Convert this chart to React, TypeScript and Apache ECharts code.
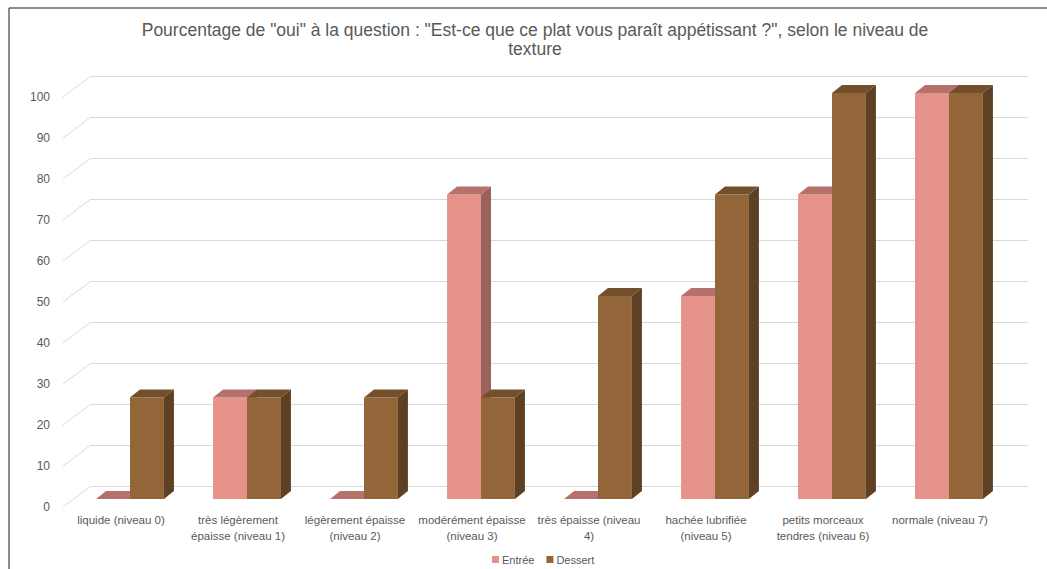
import React, { useEffect, useRef } from "react";
import * as echarts from "echarts";

const categories = [
  "liquide (niveau 0)",
  "très légèrement\népaisse (niveau 1)",
  "légèrement épaisse\n(niveau 2)",
  "modérément épaisse\n(niveau 3)",
  "très épaisse (niveau\n4)",
  "hachée lubrifiée\n(niveau 5)",
  "petits morceaux\ntendres (niveau 6)",
  "normale (niveau 7)",
];
const entree = [0, 25, 0, 75, 0, 50, 75, 100];
const dessert = [25, 25, 25, 25, 50, 75, 100, 100];
const yTicks = [0, 10, 20, 30, 40, 50, 60, 70, 80, 90, 100];
const seriesNames = ["Entrée", "Dessert"];
const titleText =
  'Pourcentage de "oui" à la question : "Est-ce que ce plat vous paraît appétissant ?", selon le niveau de\ntexture';

const FONT = "'Liberation Sans', Arial, sans-serif";
const TXT = "#595959";
const GRID = "#d9d9d9";

const palette = [
  { front: "#E5928A", top: "#B5716B", side: "#9B615B" },
  { front: "#936639", top: "#73502B", side: "#5E4124" },
];

function barRenderer(idx: number) {
  return (params: any, api: any) => {
    const cat = api.value(0);
    const v = api.value(1);
    const top = api.coord([cat, v]);
    const base = api.coord([cat, 0]);
    const band = api.size([1, 0])[0];
    const w = band * 0.29;
    const x0 = idx === 0 ? top[0] - w : top[0];
    const x1 = x0 + w;
    const yT = top[1];
    const yB = base[1];
    const dx = 10;
    const dy = 8;
    const c = palette[idx];
    return {
      type: "group",
      children: [
        {
          type: "rect",
          shape: { x: x0, y: yT, width: w, height: yB - yT },
          style: { fill: c.front },
        },
        {
          type: "polygon",
          shape: { points: [[x0, yT], [x1, yT], [x1 + dx, yT - dy], [x0 + dx, yT - dy]] },
          style: { fill: c.top },
        },
        {
          type: "polygon",
          shape: { points: [[x1, yT], [x1 + dx, yT - dy], [x1 + dx, yB - dy], [x1, yB]] },
          style: { fill: c.side },
        },
      ],
    };
  };
}

export default function App() {
  const ref = useRef<HTMLDivElement>(null);
  useEffect(() => {
    if (!ref.current) return;
    const chart = echarts.init(ref.current, undefined, { renderer: "svg" });
    const hiddenAxis = {
      show: false,
    };
    chart.setOption({
      animation: false,
      backgroundColor: "#ffffff",
      title: {
        text: titleText,
        left: 530,
        top: 15,
        textAlign: "center",
        textStyle: {
          fontFamily: FONT,
          fontSize: 17.5,
          fontWeight: "normal",
          color: TXT,
          lineHeight: 19,
        },
      },
      legend: {
        data: seriesNames,
        left: 487,
        top: 549,
        icon: "rect",
        itemWidth: 7,
        itemHeight: 7,
        itemGap: 12,
        textStyle: { fontFamily: FONT, fontSize: 11, color: TXT, padding: [0, 0, 0, -2] },
      },
      graphic: [
        { type: "line", shape: { x1: 9, y1: 8, x2: 1047, y2: 8 }, style: { stroke: "#666666", lineWidth: 1.5 } },
        { type: "line", shape: { x1: 9, y1: 8, x2: 9, y2: 569 }, style: { stroke: "#666666", lineWidth: 1.5 } },
      ],
      grid: [
        { left: 91, top: 76, width: 937, height: 410 },
        { left: 63, top: 97, width: 10, height: 410 },
        { left: 71.5, top: 93, width: 936, height: 406 },
        { left: 62.5, top: 93, width: 936, height: 406 },
      ],
      xAxis: [
        { gridIndex: 0, type: "value", min: 0, max: 1, ...hiddenAxis },
        { gridIndex: 1, type: "value", min: 0, max: 1, ...hiddenAxis },
        { gridIndex: 2, type: "category", data: categories, ...hiddenAxis },
        {
          gridIndex: 3,
          type: "category",
          data: categories,
          axisLine: { show: false },
          axisTick: { show: false },
          axisLabel: {
            interval: 0,
            margin: 13,
            fontFamily: FONT,
            fontSize: 11.5,
            lineHeight: 16,
            color: TXT,
          },
        },
      ],
      yAxis: [
        {
          gridIndex: 0,
          type: "value",
          min: 0,
          max: 100,
          interval: 10,
          axisLabel: { show: false },
          axisLine: { show: false },
          axisTick: { show: false },
          splitLine: { show: true, lineStyle: { color: GRID, width: 1 } },
        },
        {
          gridIndex: 1,
          type: "value",
          min: 0,
          max: 100,
          interval: 10,
          axisLine: { show: false },
          axisTick: { show: false },
          splitLine: { show: false },
          axisLabel: { margin: 13, fontFamily: FONT, fontSize: 12, color: TXT },
        },
        { gridIndex: 2, type: "value", min: 0, max: 100, ...hiddenAxis },
        { gridIndex: 3, type: "value", min: 0, max: 100, ...hiddenAxis },
      ],
      series: [
        {
          type: "custom",
          name: "walls",
          xAxisIndex: 0,
          yAxisIndex: 0,
          z: 1,
          silent: true,
          data: yTicks.map((t) => [0, t]),
          renderItem: (params: any, api: any) => {
            const p = api.coord([0, api.value(1)]);
            return {
              type: "line",
              shape: { x1: p[0] - 28, y1: p[1] + 21, x2: p[0], y2: p[1] },
              style: { stroke: GRID, lineWidth: 1 },
            };
          },
        },
        {
          type: "custom",
          name: seriesNames[0],
          xAxisIndex: 2,
          yAxisIndex: 2,
          z: 3,
          itemStyle: { color: palette[0].front },
          data: entree.map((v, i) => [i, v]),
          encode: { x: 0, y: 1 },
          renderItem: barRenderer(0),
        },
        {
          type: "custom",
          name: seriesNames[1],
          xAxisIndex: 2,
          yAxisIndex: 2,
          z: 3,
          itemStyle: { color: palette[1].front },
          data: dessert.map((v, i) => [i, v]),
          encode: { x: 0, y: 1 },
          renderItem: barRenderer(1),
        },
      ],
    });
    return () => chart.dispose();
  }, []);
  return (
    <div
      ref={ref}
      style={{ position: "fixed", left: 0, top: 0, width: 1047, height: 569 }}
    />
  );
}
